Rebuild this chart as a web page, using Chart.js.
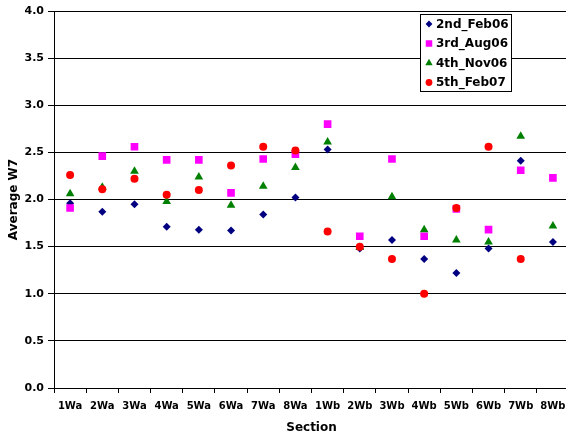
<!DOCTYPE html>
<html>
<head>
<meta charset="utf-8">
<script src="https://cdn.jsdelivr.net/npm/chart.js@4.4.1/dist/chart.umd.min.js"></script>
<style>
  html, body { margin: 0; padding: 0; overflow: hidden; background: #fff; }
  #wrap { width: 566px; height: 439px; overflow: hidden; }
</style>
</head>
<body>
<div id="wrap"><canvas id="chart" width="580" height="439"></canvas></div>
<script>
const sections = ['1Wa', '2Wa', '3Wa', '4Wa', '5Wa', '6Wa', '7Wa', '8Wa',
  '1Wb', '2Wb', '3Wb', '4Wb', '5Wb', '6Wb', '7Wb', '8Wb'];

const feb06 = [1.96, 1.87, 1.95, 1.71, 1.68, 1.67, 1.84, 2.02, 2.53, 1.48, 1.57, 1.37, 1.22, 1.48, 2.41, 1.55];
const aug06 = [1.91, 2.46, 2.56, 2.42, 2.42, 2.07, 2.43, 2.48, 2.80, 1.61, 2.43, 1.61, 1.90, 1.68, 2.31, 2.23];
const nov06 = [2.06, 2.13, 2.30, 1.98, 2.24, 1.94, 2.14, 2.34, 2.61, 1.49, 2.03, 1.68, 1.57, 1.55, 2.67, 1.72];
const feb07 = [2.26, 2.11, 2.22, 2.05, 2.10, 2.36, 2.56, 2.52, 1.66, 1.50, 1.37, 1.00, 1.91, 2.56, 1.37, null];

const yTicks = [0, 0.5, 1, 1.5, 2, 2.5, 3, 3.5, 4];

const FONT = 'DejaVu Sans';

const series = [
  { label: '2nd_Feb06', data: feb06, color: '#000080', style: 'rectRot', radius: 4, order: 3 },
  { label: '3rd_Aug06', data: aug06, color: '#FF00FF', style: 'rect', radius: 5.4, order: 2 },
  { label: '4th_Nov06', data: nov06, color: '#008000', style: 'triangle', radius: 5, order: 1 },
  { label: '5th_Feb07', data: feb07, color: '#FF0000', style: 'circle', radius: 4, order: 0 },
];

function drawMarker(ctx, style, x, y, r) {
  if (style === 'circle') {
    ctx.arc(x, y, r, 0, Math.PI * 2);
  } else if (style === 'rect') {
    const h = r * Math.SQRT1_2;
    ctx.rect(x - h, y - h, 2 * h, 2 * h);
  } else if (style === 'rectRot') {
    ctx.moveTo(x, y - r); ctx.lineTo(x + r, y); ctx.lineTo(x, y + r); ctx.lineTo(x - r, y); ctx.closePath();
  } else {
    ctx.moveTo(x, y - r); ctx.lineTo(x + r * 0.866, y + r * 0.5); ctx.lineTo(x - r * 0.866, y + r * 0.5); ctx.closePath();
  }
}

// draws the boxed legend inside the plot, like the excel one
const boxLegend = {
  id: 'boxLegend',
  afterDraw(chart) {
    const ctx = chart.ctx;
    ctx.save();
    ctx.fillStyle = '#fff';
    ctx.strokeStyle = '#000';
    ctx.lineWidth = 1;
    ctx.fillRect(420.5, 14.5, 91, 77);
    ctx.strokeRect(420.5, 14.5, 91, 77);
    ctx.font = 'bold 12px "' + FONT + '"';
    ctx.textBaseline = 'middle';
    ctx.textAlign = 'left';
    series.forEach((s, i) => {
      const y = 24 + i * 19.5;
      ctx.fillStyle = s.color;
      ctx.beginPath();
      drawMarker(ctx, s.style, 429, y, s.radius * 0.85);
      ctx.fill();
      ctx.fillStyle = '#000';
      ctx.fillText(s.label, 436, y + 0.5);
    });
    ctx.restore();
  },
};

new Chart(document.getElementById('chart'), {
  type: 'line',
  data: {
    labels: sections,
    datasets: series.map(s => ({
      label: s.label,
      data: s.data,
      showLine: false,
      order: s.order,
      pointStyle: s.style,
      pointRadius: s.radius,
      pointBorderWidth: 0,
      pointBackgroundColor: s.color,
      pointBorderColor: s.color,
      borderColor: s.color,
      backgroundColor: s.color,
    })),
  },
  options: {
    responsive: false,
    animation: false,
    layout: { padding: { left: 0, right: 11, top: 11, bottom: 0 } },
    plugins: {
      legend: { display: false },
      tooltip: { enabled: false },
    },
    scales: {
      x: {
        offset: true,
        afterFit: (scale) => { scale.height = 51; },
        grid: { offset: true, drawOnChartArea: false, tickLength: 5, color: '#000' },
        border: { color: '#000' },
        ticks: {
          color: '#000', padding: 7, autoSkip: false, maxRotation: 0,
          font: { family: FONT, size: 10, weight: 'bold' },
        },
        title: {
          display: true, text: 'Section', color: '#000', padding: { top: 0, bottom: 4 },
          font: { family: FONT, size: 12, weight: 'bold' },
        },
      },
      y: {
        min: 0,
        max: 4,
        afterFit: (scale) => { scale.width = 54; },
        afterBuildTicks: (scale) => { scale.ticks = yTicks.map(v => ({ value: v })); },
        grid: { color: '#000', tickLength: 6 },
        border: { color: '#000' },
        ticks: {
          color: '#000', padding: 4,
          font: { family: FONT, size: 11, weight: 'bold' },
          callback: (v) => Number(v).toFixed(1),
        },
        title: {
          display: true, text: 'Average W7', color: '#000', padding: { top: 7, bottom: 0 },
          font: { family: FONT, size: 12, weight: 'bold' },
        },
      },
    },
  },
  plugins: [boxLegend],
});
</script>
</body>
</html>
